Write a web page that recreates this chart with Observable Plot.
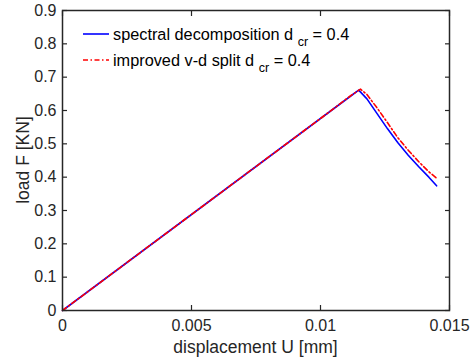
<!DOCTYPE html>
<html>
<head>
<meta charset="utf-8">
<script src="https://cdn.jsdelivr.net/npm/d3@7"></script>
<script src="https://cdn.jsdelivr.net/npm/@observablehq/plot@0.6"></script>
<style>
  html, body { margin: 0; padding: 0; background: #fff; }
  #chart { width: 473px; height: 360px; }
</style>
</head>
<body>
<div id="chart"></div>
<script>
// Series: spectral decomposition (blue, solid)
const specU = [0, 0.005, 0.010, 0.0112, 0.01148, 0.0118, 0.0122, 0.0126, 0.0130, 0.0134, 0.0138, 0.0142, 0.0145];
const specF = [0, 0.288, 0.576, 0.645, 0.661, 0.635, 0.590, 0.545, 0.503, 0.466, 0.432, 0.400, 0.374];
// Series: improved v-d split (red, dash-dot)
const vdU = [0, 0.005, 0.010, 0.0112, 0.01155, 0.0118, 0.0122, 0.0126, 0.0130, 0.0134, 0.0138, 0.0142, 0.0145];
const vdF = [0, 0.288, 0.576, 0.646, 0.664, 0.648, 0.607, 0.563, 0.518, 0.481, 0.447, 0.416, 0.397];

const seriesNames = ["spectral decomposition d", "improved v-d split d"];
const seriesSub = ["cr", "cr"];
const seriesSuffix = [" = 0.4", " = 0.4"];
const seriesColors = ["#0000ff", "#ff0000"];
const seriesDash = [null, "5,2.5,1.5,2.5"];

const xTicks = [0, 0.005, 0.01, 0.015];
const xTickLabels = ["0", "0.005", "0.01", "0.015"];
const yTicks = [0, 0.1, 0.2, 0.3, 0.4, 0.5, 0.6, 0.7, 0.8, 0.9];
const yTickLabels = ["0", "0.1", "0.2", "0.3", "0.4", "0.5", "0.6", "0.7", "0.8", "0.9"];
const xLabel = "displacement U [mm]";
const yLabel = "load F [KN]";

const spec = specU.map((u, i) => ({u, f: specF[i]}));
const vd = vdU.map((u, i) => ({u, f: vdF[i]}));

const axisColor = "#262626";
const font = "Liberation Sans, Arial, Helvetica, sans-serif";

const plot = Plot.plot({
  width: 473,
  height: 360,
  marginLeft: 62,
  marginRight: 24,
  marginTop: 10,
  marginBottom: 50,
  style: {fontFamily: font, fontSize: "16px", color: axisColor, background: "#fff", overflow: "visible"},
  x: {domain: [0, 0.015]},
  y: {domain: [0, 0.9]},
  marks: [
    Plot.line(spec, {x: "u", y: "f", stroke: seriesColors[0], strokeWidth: 1.6}),
    Plot.line(vd, {x: "u", y: "f", stroke: seriesColors[1], strokeWidth: 1.6, strokeDasharray: seriesDash[1]}),
    Plot.axisX({anchor: "bottom", ticks: xTicks, tickFormat: (d) => xTickLabels[xTicks.indexOf(d)], tickSize: -5, tickPadding: 14, stroke: axisColor, strokeWidth: 1.2, label: null}),
    Plot.axisX({anchor: "top", ticks: xTicks, tickFormat: () => "", tickSize: -5, stroke: axisColor, strokeWidth: 1.2, label: null}),
    Plot.axisY({anchor: "left", ticks: yTicks, tickFormat: (d) => yTickLabels[yTicks.findIndex(t => Math.abs(t - d) < 1e-9)], tickSize: -5, tickPadding: 11, stroke: axisColor, strokeWidth: 1.2, label: null}),
    Plot.axisY({anchor: "right", ticks: yTicks, tickFormat: () => "", tickSize: -5, stroke: axisColor, strokeWidth: 1.2, label: null}),
    Plot.frame({stroke: axisColor, strokeWidth: 1.5})
  ]
});

const svg = d3.select(plot);
// Axis titles
svg.append("text").attr("x", (62 + 449) / 2).attr("y", 347).attr("dy", "0.35em")
  .attr("text-anchor", "middle").attr("font-size", 17.5).attr("fill", axisColor).attr("font-family", font)
  .text(xLabel);
svg.append("text").attr("transform", `translate(23,${(10 + 310) / 2}) rotate(-90)`).attr("dy", "0.35em")
  .attr("text-anchor", "middle").attr("font-size", 17.5).attr("fill", axisColor).attr("font-family", font)
  .text(yLabel);

// Legend (inside the axes, top-left, no box)
const lg = svg.append("g").attr("font-family", font).attr("fill", "#000").attr("text-anchor", "start");
const legendY = [34, 60];
seriesNames.forEach((name, i) => {
  const y = legendY[i];
  lg.append("line")
    .attr("x1", 83).attr("x2", 109).attr("y1", y).attr("y2", y)
    .attr("stroke", seriesColors[i]).attr("stroke-width", 1.6)
    .attr("stroke-dasharray", seriesDash[i]);
  const t = lg.append("text").attr("x", 113).attr("y", y + 5.5).attr("font-size", 16.3);
  t.append("tspan").text(name + " ");
  t.append("tspan").attr("dy", 6).attr("font-size", 12.5).text(seriesSub[i]);
  t.append("tspan").attr("dy", -6).text(seriesSuffix[i]);
});

document.getElementById("chart").appendChild(plot);
</script>
</body>
</html>
